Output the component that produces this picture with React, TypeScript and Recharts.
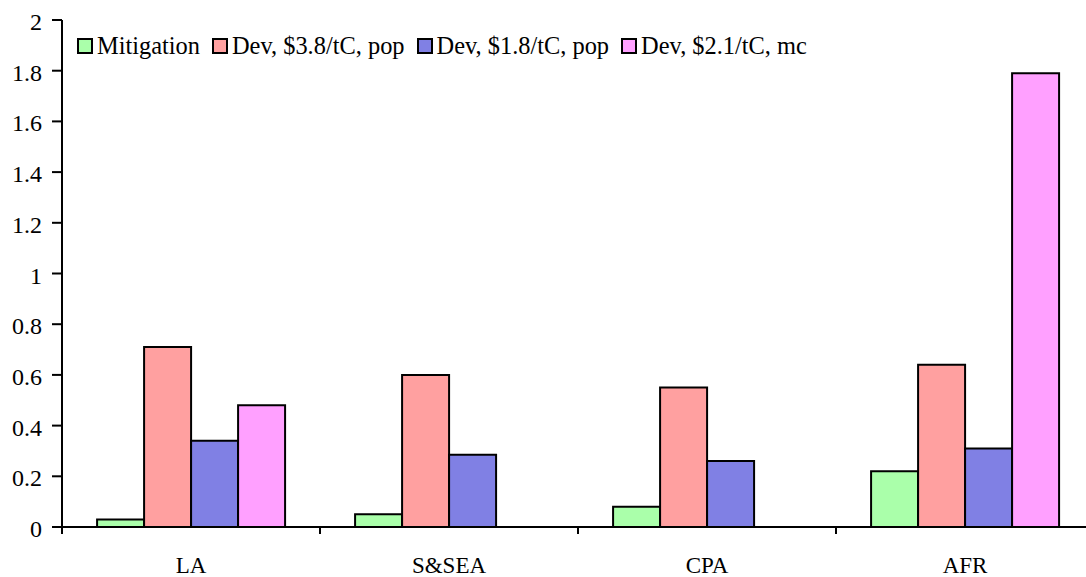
import { BarChart, Bar, XAxis, YAxis, Legend } from 'recharts'

const regions = ['LA', 'S&SEA', 'CPA', 'AFR']
const mitigation = [0.03, 0.05, 0.08, 0.22]
const devHighPop = [0.71, 0.6, 0.55, 0.64]
const devLowPop = [0.34, 0.285, 0.26, 0.31]
const devMc = [0.48, null, null, 1.79]
const yTicks = [0, 0.2, 0.4, 0.6, 0.8, 1, 1.2, 1.4, 1.6, 1.8, 2]

const SERIES = [
  { key: 'mitigation', name: 'Mitigation', color: '#aaffaa' },
  { key: 'devHighPop', name: 'Dev, $3.8/tC, pop', color: '#ffa0a0' },
  { key: 'devLowPop', name: 'Dev, $1.8/tC, pop', color: '#8080e4' },
  { key: 'devMc', name: 'Dev, $2.1/tC, mc', color: '#ffa0ff' },
]

const data = regions.map((region, i) => ({
  region,
  mitigation: mitigation[i],
  devHighPop: devHighPop[i],
  devLowPop: devLowPop[i],
  devMc: devMc[i],
}))

const FONT = '"Liberation Serif", "Times New Roman", serif'

// label in the middle of the band, tick mark on the band's left edge
function CategoryTick(props: any) {
  const { x, y, payload } = props
  const half = payload.offset ?? 0
  return (
    <g>
      <line x1={x - half} x2={x - half} y1={y} y2={y + 7} stroke="#000" strokeWidth={2} />
      <text x={x} y={y + 46} textAnchor="middle" fontSize={23} fill="#000" style={{ fontFamily: FONT }}>
        {payload.value}
      </text>
    </g>
  )
}

function ValueTick(props: any) {
  const { x, y, payload } = props
  return (
    <text x={x + 1} y={y + 10} textAnchor="end" fontSize={24} fill="#000" style={{ fontFamily: FONT }}>
      {payload.value}
    </text>
  )
}

function LegendBox() {
  return (
    <div style={{ display: 'flex', alignItems: 'center', fontFamily: FONT, fontSize: 24.4, color: '#000', whiteSpace: 'nowrap' }}>
      {SERIES.map((s) => (
        <div key={s.key} style={{ display: 'flex', alignItems: 'center', marginRight: 12 }}>
          <span
            style={{
              display: 'inline-block',
              width: 12,
              height: 12,
              background: s.color,
              border: '2px solid #000',
              marginRight: 4,
            }}
          />
          <span>{s.name}</span>
        </div>
      ))}
    </div>
  )
}

export default function App() {
  return (
    <div style={{ position: 'absolute', left: 0, top: 0, width: 1086, height: 577, overflow: 'hidden', background: '#fff', fontFamily: FONT }}>
      <BarChart
        width={1100}
        height={577}
        data={data}
        margin={{ top: 20, right: 6, bottom: 0, left: 0 }}
        barCategoryGap="13.6%"
        barGap={0}
      >
        <XAxis
          dataKey="region"
          height={50}
          stroke="#000"
          strokeWidth={2}
          tickLine={false}
          tickSize={0}
          tickMargin={0}
          tick={<CategoryTick />}
          interval={0}
        />
        <YAxis
          width={62}
          domain={[0, 2]}
          ticks={yTicks}
          stroke="#000"
          strokeWidth={2}
          tickSize={10}
          tickMargin={11}
          tick={<ValueTick />}
          interval={0}
        />
        <Legend
          layout="horizontal"
          verticalAlign="middle"
          align="center"
          content={<LegendBox />}
          wrapperStyle={{ top: 32, left: 77, width: 'auto', height: 'auto' }}
        />
        {SERIES.map((s) => (
          <Bar
            key={s.key}
            dataKey={s.key}
            name={s.name}
            fill={s.color}
            stroke="#000"
            strokeWidth={2}
            isAnimationActive={false}
          />
        ))}
      </BarChart>
    </div>
  )
}
